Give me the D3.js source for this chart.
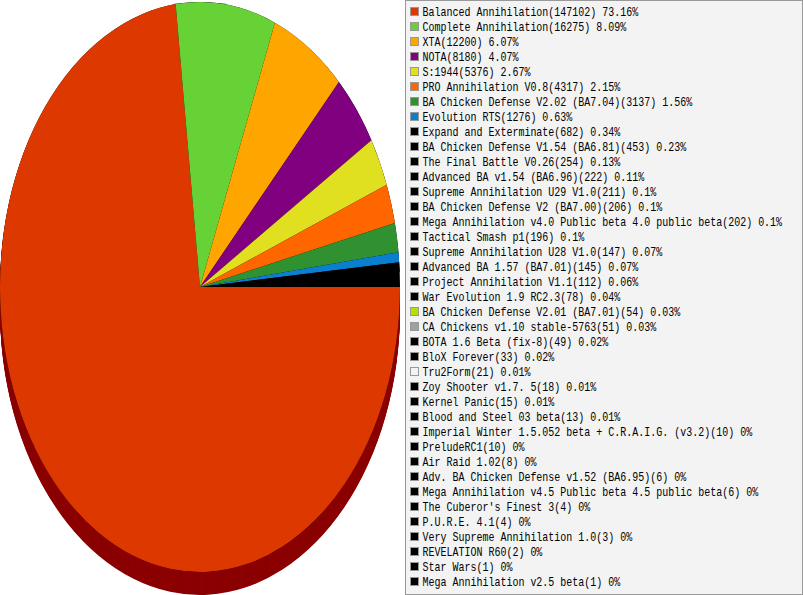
<!DOCTYPE html>
<html><head><meta charset="utf-8">
<script src="https://cdn.jsdelivr.net/npm/d3@7/dist/d3.min.js"></script>
<style>html,body{margin:0;padding:0;background:#fff;overflow:hidden}svg{display:block}
text{font-family:"Liberation Mono",monospace;font-size:10px;fill:#000}</style>
</head><body><svg id="c" width="803" height="595"></svg>
<script>
const names=["Balanced Annihilation","Complete Annihilation","XTA","NOTA","S:1944","PRO Annihilation V0.8","BA Chicken Defense V2.02 (BA7.04)","Evolution RTS","Expand and Exterminate","BA Chicken Defense V1.54 (BA6.81)","The Final Battle V0.26","Advanced BA v1.54 (BA6.96)","Supreme Annihilation U29 V1.0","BA Chicken Defense V2 (BA7.00)","Mega Annihilation v4.0 Public beta 4.0 public beta","Tactical Smash p1","Supreme Annihilation U28 V1.0","Advanced BA 1.57 (BA7.01)","Project Annihilation V1.1","War Evolution 1.9 RC2.3","BA Chicken Defense V2.01 (BA7.01)","CA Chickens v1.10 stable-5763","BOTA 1.6 Beta (fix-8)","BloX Forever","Tru2Form","Zoy Shooter v1.7. 5","Kernel Panic","Blood and Steel 03 beta","Imperial Winter 1.5.052 beta + C.R.A.I.G. (v3.2)","PreludeRC1","Air Raid 1.02","Adv. BA Chicken Defense v1.52 (BA6.95)","Mega Annihilation v4.5 Public beta 4.5 public beta","The Cuberor's Finest 3","P.U.R.E. 4.1","Very Supreme Annihilation 1.0","REVELATION R60","Star Wars","Mega Annihilation v2.5 beta"];
const values=[147102,16275,12200,8180,5376,4317,3137,1276,682,453,254,222,211,206,202,196,147,145,112,78,54,51,49,33,21,18,15,13,10,10,8,6,6,4,4,3,2,1,1];
const percents=["73.16","8.09","6.07","4.07","2.67","2.15","1.56","0.63","0.34","0.23","0.13","0.11","0.1","0.1","0.1","0.1","0.07","0.07","0.06","0.04","0.03","0.03","0.02","0.02","0.01","0.01","0.01","0.01","0","0","0","0","0","0","0","0","0","0","0"];
const topColors=["#dc3800","#66d235","#ffa500","#800080","#e0e020","#ff6600","#2f912f","#0a7fd0"];
const specialColors={20:"#b4e100",21:"#a0a0a0",24:"#f3f3f3"};
const colorOf=i=>specialColors[i]||topColors[i]||"#000000";
const shadowColor="#8b0000";

const svg=d3.select("#c");
const cx=200,cy=287,rx=200,ry=285,depth=23;
const total=d3.sum(values);
// the original chart rounds every slice to whole degrees; what is left over stays black
const degrees=values.map(v=>Math.round(v/total*360));
const sumDeg=d3.sum(degrees);
const rad=Math.PI/180;
const pie=d3.pie().sort(null).value(d=>d).startAngle(Math.PI/2).endAngle(Math.PI/2+sumDeg*rad);
const arcs=pie(degrees);
const arc=d3.arc().innerRadius(0).outerRadius(rx);
const idx=d3.range(depth,0,-1);
svg.append("g").selectAll("path").data(idx).join("path")
  .attr("transform",d=>`translate(${cx},${cy+d}) scale(1,${ry/rx})`)
  .attr("d",arc(arcs[0])).attr("fill",shadowColor);
const pieG=svg.append("g").attr("transform",`translate(${cx},${cy}) scale(1,${ry/rx})`);
pieG.append("path").attr("d",arc({startAngle:0,endAngle:2*Math.PI})).attr("fill","#000");
pieG.selectAll("path.s").data(arcs).join("path").attr("class","s")
  .attr("d",arc).attr("fill",(d,i)=>colorOf(i));

svg.append("rect").attr("x",405.5).attr("y",0.5).attr("width",397).attr("height",594)
  .attr("fill","#f3f3f3").attr("stroke","#999999").attr("stroke-width",1);
const rowY=i=>12+15*i;
const rows=svg.append("g").selectAll("g").data(names).join("g");
rows.append("rect").attr("x",410.5).attr("y",(d,i)=>rowY(i)-4.5).attr("width",8).attr("height",8)
  .attr("fill",(d,i)=>colorOf(i)).attr("stroke","#999999").attr("stroke-width",1);
rows.append("text").attr("transform",(d,i)=>`translate(422.5,${rowY(i)+4}) scale(1,1.2)`)
  .text((d,i)=>`${d}(${values[i]}) ${percents[i]}%`);
</script></body></html>
